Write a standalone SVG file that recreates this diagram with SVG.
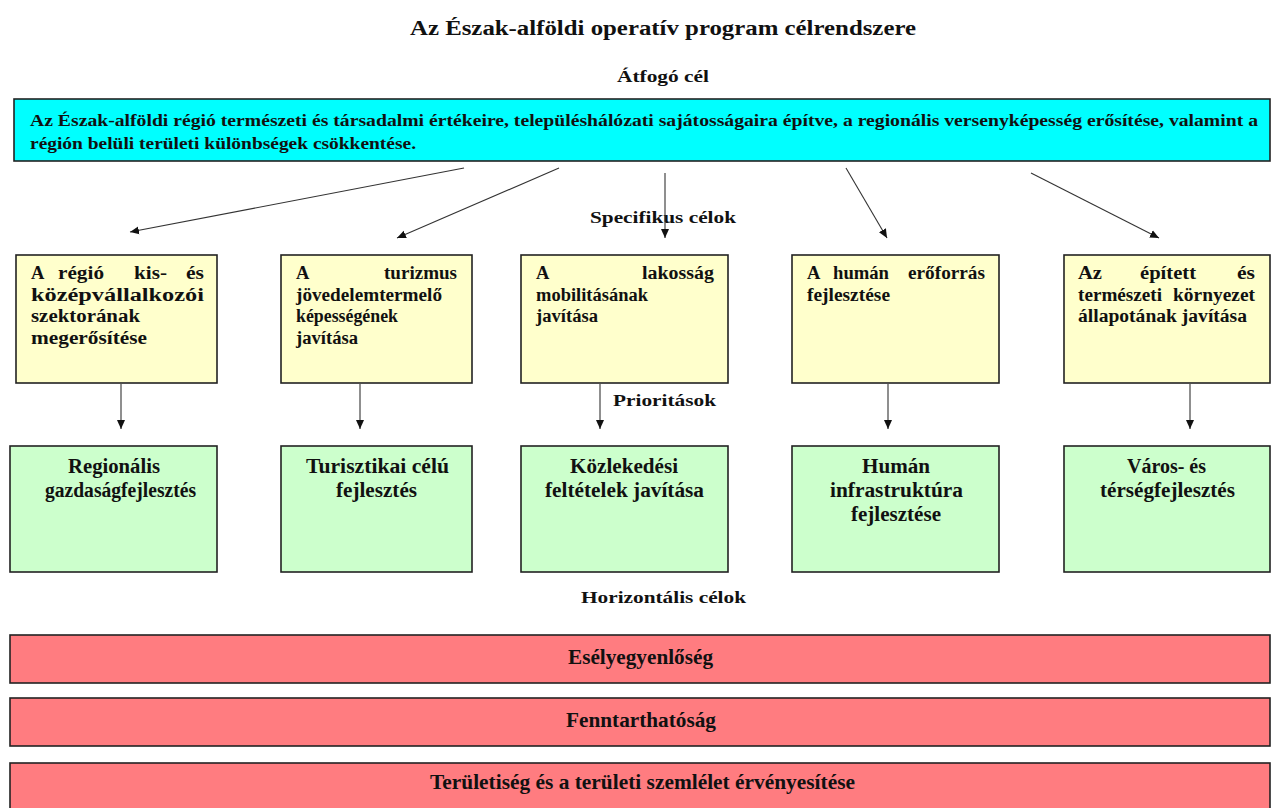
<svg xmlns="http://www.w3.org/2000/svg" width="1273" height="808" viewBox="0 0 1273 808">
<defs>
<style>
text{font-family:"Liberation Serif","Times New Roman",serif;font-weight:bold;fill:#111}
.t{font-size:20.5px}
.h{font-size:17.5px}
.c{font-size:16.5px}
.y{font-size:18.5px}
.g{font-size:20.5px}
.r{font-size:21px}
.box{stroke:#222;stroke-width:1.6}
.cy{fill:#00FFFF}
.ye{fill:#FFFFCC}
.gr{fill:#CCFFCC}
.rd{fill:#FF7C80}
.ar{stroke:#333;stroke-width:1.1;fill:none;marker-end:url(#ah)}
</style>
<marker id="ah" markerUnits="userSpaceOnUse" markerWidth="10" markerHeight="10" refX="9" refY="5" orient="auto">
<path d="M0,1 L9,5 L0,9 Z" fill="#111"/>
</marker>
</defs>
<rect width="1273" height="808" fill="#fff"/>

<text class="t" x="410" y="35" textLength="506" lengthAdjust="spacingAndGlyphs">Az Észak-alföldi operatív program célrendszere</text>
<text class="h" x="617" y="82" textLength="92" lengthAdjust="spacingAndGlyphs">Átfogó cél</text>

<g id="goal">
<rect class="box cy" x="14" y="99" width="1256" height="62"/>
<text class="c" x="30" y="126" textLength="1228" lengthAdjust="spacingAndGlyphs">Az Észak-alföldi régió természeti és társadalmi értékeire, településhálózati sajátosságaira építve, a regionális versenyképesség erősítése, valamint a</text>
<text class="c" x="30" y="149" textLength="386" lengthAdjust="spacingAndGlyphs">régión belüli területi különbségek csökkentése.</text>
</g>

<text class="h" x="590" y="223" textLength="146" lengthAdjust="spacingAndGlyphs">Specifikus célok</text>

<g id="s1">
<rect class="box ye" x="16" y="255" width="201" height="128"/>
<text class="y" x="31" y="279">A</text>
<text class="y" x="58" y="279" textLength="46" lengthAdjust="spacingAndGlyphs">régió</text>
<text class="y" x="134" y="279" textLength="33" lengthAdjust="spacingAndGlyphs">kis-</text>
<text class="y" x="186" y="279" textLength="18" lengthAdjust="spacingAndGlyphs">és</text>
<text class="y" x="31" y="301" textLength="173" lengthAdjust="spacingAndGlyphs">középvállalkozói</text>
<text class="y" x="31" y="322" textLength="109" lengthAdjust="spacingAndGlyphs">szektorának</text>
<text class="y" x="31" y="344" textLength="116" lengthAdjust="spacingAndGlyphs">megerősítése</text>
</g>

<g id="s2">
<rect class="box ye" x="281" y="255" width="191" height="128"/>
<text class="y" x="296" y="279">A</text>
<text class="y" x="384" y="279" textLength="73" lengthAdjust="spacingAndGlyphs">turizmus</text>
<text class="y" x="296" y="301" textLength="146" lengthAdjust="spacingAndGlyphs">jövedelemtermelő</text>
<text class="y" x="296" y="322" textLength="102" lengthAdjust="spacingAndGlyphs">képességének</text>
<text class="y" x="296" y="344" textLength="62" lengthAdjust="spacingAndGlyphs">javítása</text>
</g>

<g id="s3">
<rect class="box ye" x="521" y="255" width="207" height="128"/>
<text class="y" x="536" y="279">A</text>
<text class="y" x="642" y="279" textLength="72" lengthAdjust="spacingAndGlyphs">lakosság</text>
<text class="y" x="536" y="301" textLength="112" lengthAdjust="spacingAndGlyphs">mobilitásának</text>
<text class="y" x="536" y="322" textLength="62" lengthAdjust="spacingAndGlyphs">javítása</text>
</g>

<g id="s4">
<rect class="box ye" x="792" y="255" width="207" height="128"/>
<text class="y" x="807" y="279">A</text>
<text class="y" x="833" y="279" textLength="56" lengthAdjust="spacingAndGlyphs">humán</text>
<text class="y" x="908" y="279" textLength="77" lengthAdjust="spacingAndGlyphs">erőforrás</text>
<text class="y" x="807" y="301" textLength="83" lengthAdjust="spacingAndGlyphs">fejlesztése</text>
</g>

<g id="s5">
<rect class="box ye" x="1064" y="255" width="206" height="128"/>
<text class="y" x="1078" y="279" textLength="24" lengthAdjust="spacingAndGlyphs">Az</text>
<text class="y" x="1140" y="279" textLength="56" lengthAdjust="spacingAndGlyphs">épített</text>
<text class="y" x="1237" y="279" textLength="18" lengthAdjust="spacingAndGlyphs">és</text>
<text class="y" x="1078" y="301" textLength="84" lengthAdjust="spacingAndGlyphs">természeti</text>
<text class="y" x="1173" y="301" textLength="82" lengthAdjust="spacingAndGlyphs">környezet</text>
<text class="y" x="1078" y="322" textLength="169" lengthAdjust="spacingAndGlyphs">állapotának javítása</text>
</g>

<text class="h" x="613" y="406" textLength="103" lengthAdjust="spacingAndGlyphs">Prioritások</text>

<g id="p1">
<rect class="box gr" x="10" y="446" width="207" height="126"/>
<text class="g" x="68" y="473" textLength="92" lengthAdjust="spacingAndGlyphs">Regionális</text>
<text class="g" x="45" y="497" textLength="151" lengthAdjust="spacingAndGlyphs">gazdaságfejlesztés</text>
</g>
<g id="p2">
<rect class="box gr" x="281" y="446" width="191" height="126"/>
<text class="g" x="306" y="473" textLength="143" lengthAdjust="spacingAndGlyphs">Turisztikai célú</text>
<text class="g" x="336" y="497" textLength="81" lengthAdjust="spacingAndGlyphs">fejlesztés</text>
</g>
<g id="p3">
<rect class="box gr" x="521" y="446" width="207" height="126"/>
<text class="g" x="570" y="473" textLength="108" lengthAdjust="spacingAndGlyphs">Közlekedési</text>
<text class="g" x="545" y="497" textLength="159" lengthAdjust="spacingAndGlyphs">feltételek javítása</text>
</g>
<g id="p4">
<rect class="box gr" x="792" y="446" width="207" height="126"/>
<text class="g" x="862" y="473" textLength="68" lengthAdjust="spacingAndGlyphs">Humán</text>
<text class="g" x="830" y="497" textLength="133" lengthAdjust="spacingAndGlyphs">infrastruktúra</text>
<text class="g" x="851" y="521" textLength="90" lengthAdjust="spacingAndGlyphs">fejlesztése</text>
</g>
<g id="p5">
<rect class="box gr" x="1064" y="446" width="206" height="126"/>
<text class="g" x="1127" y="473" textLength="79" lengthAdjust="spacingAndGlyphs">Város- és</text>
<text class="g" x="1100" y="497" textLength="135" lengthAdjust="spacingAndGlyphs">térségfejlesztés</text>
</g>

<text class="h" x="581" y="603" textLength="165" lengthAdjust="spacingAndGlyphs">Horizontális célok</text>

<g id="h1">
<rect class="box rd" x="10" y="635" width="1260" height="48"/>
<text class="r" x="568" y="664" textLength="145" lengthAdjust="spacingAndGlyphs">Esélyegyenlőség</text>
</g>
<g id="h2">
<rect class="box rd" x="10" y="698" width="1260" height="48"/>
<text class="r" x="566" y="727" textLength="150" lengthAdjust="spacingAndGlyphs">Fenntarthatóság</text>
</g>
<g id="h3">
<rect class="box rd" x="10" y="763" width="1260" height="50"/>
<text class="r" x="430" y="789" textLength="425" lengthAdjust="spacingAndGlyphs">Területiség és a területi szemlélet érvényesítése</text>
</g>

<g id="connectors">
<line class="ar" x1="464" y1="168" x2="130" y2="232"/>
<line class="ar" x1="559" y1="168" x2="397" y2="238"/>
<line class="ar" x1="665" y1="173" x2="665" y2="238"/>
<line class="ar" x1="846" y1="168" x2="887" y2="238"/>
<line class="ar" x1="1031" y1="173" x2="1159" y2="238"/>
<line class="ar" x1="121" y1="384" x2="121" y2="429"/>
<line class="ar" x1="360" y1="384" x2="360" y2="429"/>
<line class="ar" x1="600" y1="384" x2="600" y2="429"/>
<line class="ar" x1="888" y1="384" x2="888" y2="429"/>
<line class="ar" x1="1190" y1="384" x2="1190" y2="429"/>
</g>
</svg>
